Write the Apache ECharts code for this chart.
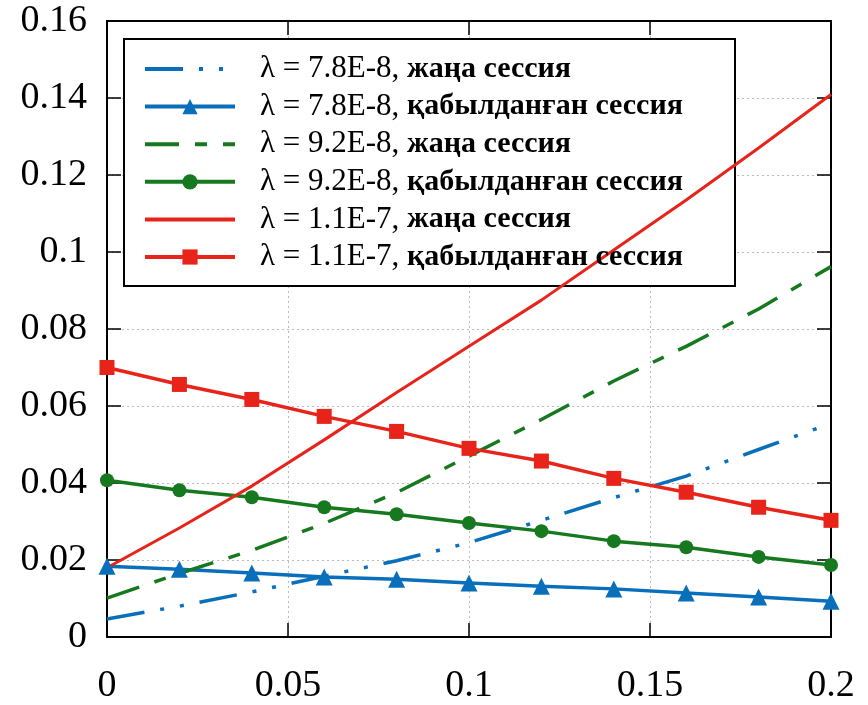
<!DOCTYPE html>
<html>
<head>
<meta charset="utf-8">
<script src="https://cdn.jsdelivr.net/npm/echarts@6/dist/echarts.min.js"></script>
<style>
html,body{margin:0;padding:0;background:#fff;}
#chart{width:868px;height:705px;}
</style>
</head>
<body>
<div id="chart"></div>
<script>
// x values
var xs = [0, 0.02, 0.04, 0.06, 0.08, 0.1, 0.12, 0.14, 0.16, 0.18, 0.2];

// λ = 7.8E-8
var blueNew = [0.0047, 0.0080, 0.0117, 0.0158, 0.0198, 0.0245, 0.0303, 0.0362, 0.0418, 0.0487, 0.0555];
var blueAcc = [0.0184, 0.0176, 0.0166, 0.0156, 0.0150, 0.0140, 0.0132, 0.0125, 0.0114, 0.0104, 0.0093];
// λ = 9.2E-8
var greenNew = [0.0101, 0.0165, 0.0225, 0.0295, 0.0375, 0.0470, 0.0565, 0.0665, 0.0755, 0.0852, 0.0962];
var greenAcc = [0.0407, 0.0381, 0.0363, 0.0337, 0.0319, 0.0296, 0.0275, 0.0249, 0.0233, 0.0208, 0.0187];
// λ = 1.1E-7
var redNew = [0.0180, 0.0283, 0.0392, 0.0512, 0.0635, 0.0755, 0.0875, 0.1005, 0.1135, 0.1270, 0.1409];
var redAcc = [0.0700, 0.0656, 0.0617, 0.0573, 0.0534, 0.0490, 0.0457, 0.0412, 0.0376, 0.0337, 0.0303];

var names = [
  ['λ = 7.8E-8, ', 'жаңа сессия'],
  ['λ = 7.8E-8, ', 'қабылданған сессия'],
  ['λ = 9.2E-8, ', 'жаңа сессия'],
  ['λ = 9.2E-8, ', 'қабылданған сессия'],
  ['λ = 1.1E-7, ', 'жаңа сессия'],
  ['λ = 1.1E-7, ', 'қабылданған сессия']
];

var BLUE = '#0a6fba', GREEN = '#17791f', RED = '#e8231a';

function pts(ys) {
  var out = [];
  for (var i = 0; i < xs.length; i++) out.push([xs[i], ys[i]]);
  return out;
}
function nm(i) { return names[i][0] + names[i][1]; }

var font = 'Liberation Serif';
var noMark = {opacity: 0, color: 'transparent', borderWidth: 0};

var option = {
  animation: false,
  backgroundColor: '#fff',
  grid: {left: 107, right: 37, top: 21, bottom: 67},
  // рамка легенды
  graphic: [{
    type: 'rect', z: 3, left: 123, top: 38,
    shape: {width: 611, height: 247},
    style: {fill: '#fff', stroke: '#000', lineWidth: 2}
  }],
  legend: {
    left: 123, top: 53.5, z: 5,
    orient: 'vertical',
    padding: [0, 0, 0, 20],
    itemWidth: 90,
    itemHeight: 19,
    itemGap: 6.6,
    lineStyle: {width: 4},
    formatter: function (n) {
      for (var i = 0; i < names.length; i++) {
        if (nm(i) === n) return '{a|' + names[i][0] + '}{b|' + names[i][1] + '}';
      }
      return n;
    },
    textStyle: {
      padding: [0, 0, 0, 20],
      rich: {
        a: {fontFamily: font, fontSize: 31, color: '#000', lineHeight: 31},
        b: {fontFamily: font, fontSize: 30, fontWeight: 'bold', color: '#000', lineHeight: 31}
      }
    },
    data: [
      {name: nm(0), itemStyle: noMark},
      {name: nm(1)},
      {name: nm(2), itemStyle: noMark},
      {name: nm(3)},
      {name: nm(4), itemStyle: noMark},
      {name: nm(5)}
    ]
  },
  xAxis: [{
    type: 'value', min: 0, max: 0.2, interval: 0.05,
    axisLine: {onZero: false, lineStyle: {color: '#000', width: 2}},
    axisTick: {inside: true, length: 14, lineStyle: {color: '#000', width: 1.5}},
    axisLabel: {fontFamily: font, fontSize: 38, color: '#000', margin: 30},
    splitLine: {show: true, lineStyle: {color: '#bbb', type: [2, 3], width: 1}}
  }, {
    type: 'value', min: 0, max: 0.2, interval: 0.05, position: 'top',
    axisLine: {onZero: false, lineStyle: {color: '#000', width: 2}},
    axisTick: {inside: true, length: 14, lineStyle: {color: '#000', width: 1.5}},
    axisLabel: {show: false},
    splitLine: {show: false}
  }],
  yAxis: [{
    type: 'value', min: 0, max: 0.16, interval: 0.02,
    axisLine: {show: true, onZero: false, lineStyle: {color: '#000', width: 2}},
    axisTick: {show: true, inside: true, length: 14, lineStyle: {color: '#000', width: 1.5}},
    axisLabel: {fontFamily: font, fontSize: 38, color: '#000', margin: 20},
    splitLine: {show: true, lineStyle: {color: '#bbb', type: [2, 3], width: 1}}
  }, {
    type: 'value', min: 0, max: 0.16, interval: 0.02, position: 'right',
    axisLine: {show: true, onZero: false, lineStyle: {color: '#000', width: 2}},
    axisTick: {show: true, inside: true, length: 14, lineStyle: {color: '#000', width: 1.5}},
    axisLabel: {show: false},
    splitLine: {show: false}
  }],
  series: [
    {name: nm(0), type: 'line', data: pts(blueNew), symbol: 'none',
      itemStyle: {color: BLUE},
      lineStyle: {color: BLUE, width: 3.5, type: [38, 16, 4, 16, 4, 16]}},
    {name: nm(1), type: 'line', data: pts(blueAcc), symbol: 'triangle', symbolSize: 17,
      itemStyle: {color: BLUE}, lineStyle: {color: BLUE, width: 3.5}},
    {name: nm(2), type: 'line', data: pts(greenNew), symbol: 'none',
      itemStyle: {color: GREEN},
      lineStyle: {color: GREEN, width: 3.5, type: [34, 16, 12, 16]}},
    {name: nm(3), type: 'line', data: pts(greenAcc), symbol: 'circle', symbolSize: 14,
      itemStyle: {color: GREEN}, lineStyle: {color: GREEN, width: 3.5}},
    {name: nm(4), type: 'line', data: pts(redNew), symbol: 'none',
      itemStyle: {color: RED}, lineStyle: {color: RED, width: 3}},
    {name: nm(5), type: 'line', data: pts(redAcc), symbol: 'rect', symbolSize: 15,
      itemStyle: {color: RED}, lineStyle: {color: RED, width: 3.5}}
  ]
};

var myChart = echarts.init(document.getElementById('chart'));
myChart.setOption(option);
</script>
</body>
</html>
